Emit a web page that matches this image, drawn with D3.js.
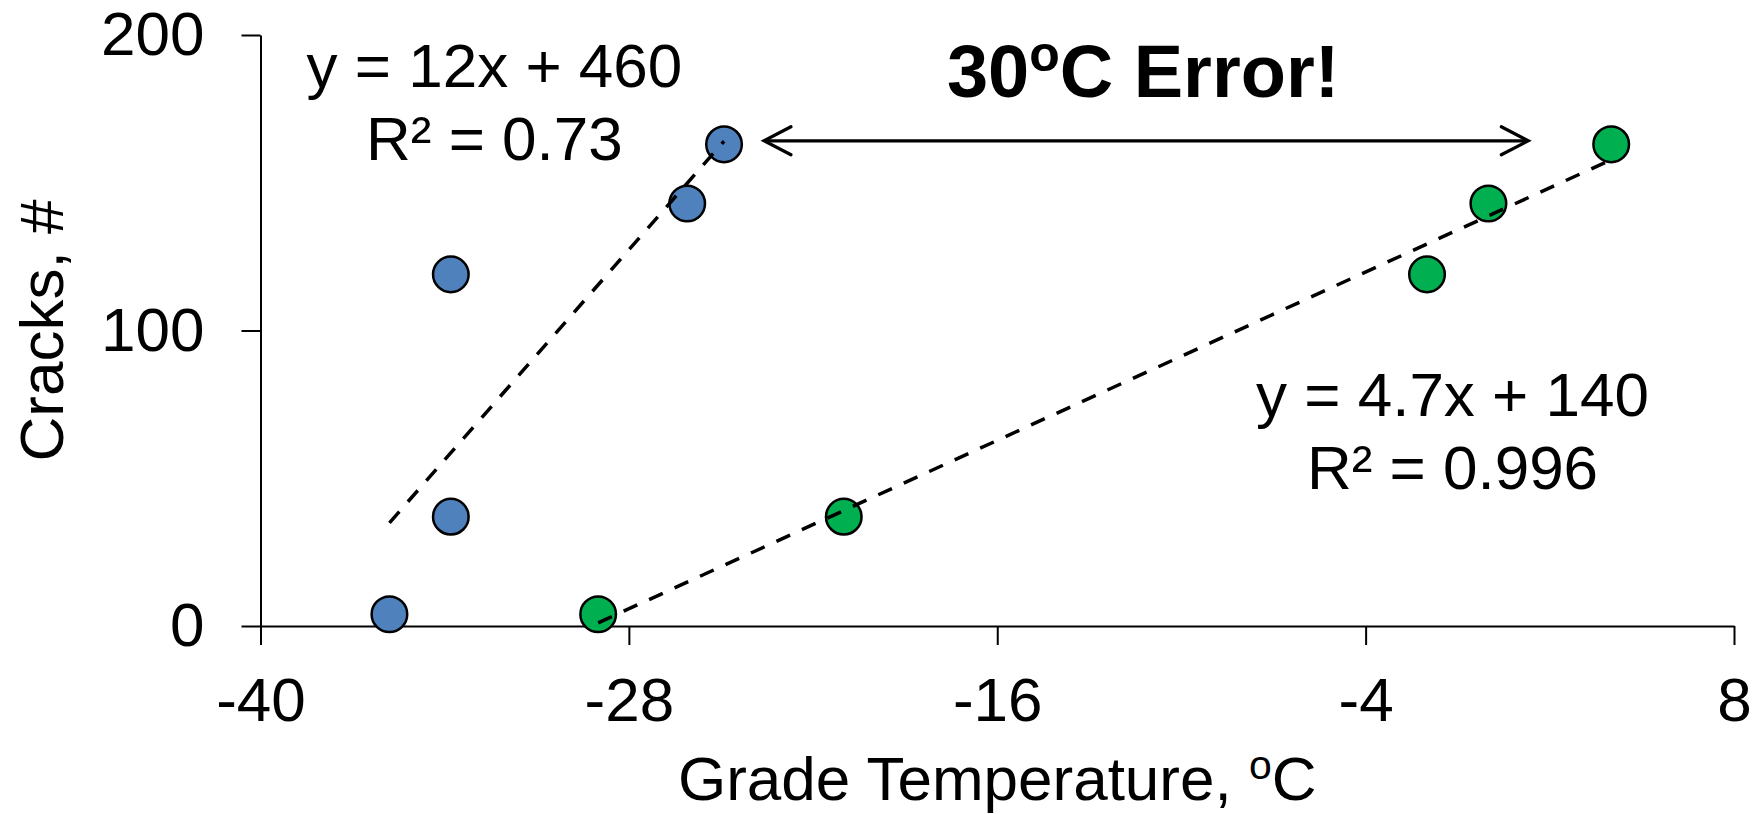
<!DOCTYPE html>
<html>
<head>
<meta charset="utf-8">
<script src="https://cdn.jsdelivr.net/npm/d3@7"></script>
<style>
  html, body { margin: 0; padding: 0; background: #ffffff; }
  svg { display: block; font-family: "Liberation Sans", Arial, sans-serif; }
</style>
</head>
<body>
<svg id="chart" width="1763" height="814"></svg>
<script>
// ---- data ----
const xTicks = [-40, -28, -16, -4, 8];
const yTicks = [0, 100, 200];
const cracks = [4, 37, 119, 143, 163];
const blueTemp = [-35.8, -33.8, -33.8, -26.1, -24.9];
const greenTemp = [-29, -21, -2, 0, 4];
const blueEq = ["y = 12x + 460", "R\u00B2 = 0.73"];
const greenEq = ["y = 4.7x + 140", "R\u00B2 = 0.996"];
const xTitle = ["Grade Temperature, ", "o", "C"];
const yTitle = "Cracks, #";
const errorLabel = ["30", "o", "C Error!"];
const arrowTemps = [-23.6, 1.3];
const arrowCracks = 164.2;

// ---- layout ----
const svg = d3.select("#chart");
const W = 1763, H = 814;
svg.append("rect").attr("width", W).attr("height", H).attr("fill", "#fff");

const x = d3.scaleLinear().domain([-40, 8]).range([260.5, 1734]);
const y = d3.scaleLinear().domain([0, 200]).range([626, 35]);
const FONT = 62;
const fmt = d => String(d);

// axes
const yAxis = d3.axisLeft(y).tickValues(yTicks).tickFormat(fmt).tickSize(19).tickSizeOuter(0).tickPadding(37);
const xAxis = d3.axisBottom(x).tickValues(xTicks).tickFormat(fmt).tickSize(19).tickSizeOuter(0).tickPadding(32);

const gy = svg.append("g").attr("transform", `translate(${x(-40)},0)`).call(yAxis);
const gx = svg.append("g").attr("transform", `translate(0,${y(0)})`).call(xAxis);
[gx, gy].forEach(g => {
  g.select(".domain").attr("stroke", "#000").attr("stroke-width", 2);
  g.selectAll(".tick line").attr("stroke", "#000").attr("stroke-width", 2);
  g.selectAll(".tick text").attr("fill", "#000").attr("font-size", FONT)
    .attr("font-family", "Liberation Sans, Arial, sans-serif");
});

// points
function drawPoints(temps, fill) {
  svg.append("g").selectAll("circle")
    .data(temps.map((t, i) => [t, cracks[i]]))
    .join("circle")
    .attr("cx", d => x(d[0]))
    .attr("cy", d => y(d[1]))
    .attr("r", 17.8)
    .attr("fill", fill)
    .attr("stroke", "#000")
    .attr("stroke-width", 2.5);
}
drawPoints(blueTemp, "#4F81BD");
drawPoints(greenTemp, "#00B050");

// linear trend lines (least squares)
function fit(xs, ys) {
  const mx = d3.mean(xs), my = d3.mean(ys);
  let sxy = 0, sxx = 0;
  xs.forEach((v, i) => { sxy += (v - mx) * (ys[i] - my); sxx += (v - mx) * (v - mx); });
  const m = sxy / sxx;
  return { m, b: my - m * mx };
}
function drawTrend(temps) {
  const f = fit(temps, cracks);
  const ext = d3.extent(temps);
  const line = d3.line().x(d => x(d)).y(d => y(f.m * d + f.b));
  svg.append("path")
    .attr("d", line(ext))
    .attr("fill", "none")
    .attr("stroke", "#000")
    .attr("stroke-width", 3.5)
    .attr("stroke-dasharray", "15,13");
}
drawTrend(blueTemp);
drawTrend(greenTemp);

// equations (anchored in data units)
function drawEq(lines, tx, ty) {
  lines.forEach((s, i) => {
    svg.append("text")
      .attr("x", x(tx))
      .attr("y", y(ty) + i * 73)
      .attr("text-anchor", "middle")
      .attr("font-size", FONT)
      .attr("fill", "#000")
      .text(s);
  });
}
drawEq(blueEq, -32.38, 182.4);
drawEq(greenEq, -1.17, 71.1);

// arrow (double-headed, open chevrons)
const ay = y(arrowCracks);
const ax0 = x(arrowTemps[0]), ax1 = x(arrowTemps[1]);
const ag = svg.append("g").attr("fill", "none").attr("stroke", "#000").attr("stroke-width", 3.2);
ag.append("line").attr("x1", ax0 + 1).attr("x2", ax1 - 1).attr("y1", ay).attr("y2", ay);
ag.append("path").attr("d", `M${ax0 + 27},${ay - 14} L${ax0},${ay} L${ax0 + 27},${ay + 14}`)
  .attr("stroke-linecap", "round").attr("stroke-linejoin", "miter");
ag.append("path").attr("d", `M${ax1 - 27},${ay - 14} L${ax1},${ay} L${ax1 - 27},${ay + 14}`)
  .attr("stroke-linecap", "round").attr("stroke-linejoin", "miter");

// "30oC Error!" label
const et = svg.append("text")
  .attr("x", (ax0 + ax1) / 2 - 3)
  .attr("y", 97)
  .attr("text-anchor", "middle")
  .attr("font-size", 74)
  .attr("font-weight", "bold")
  .attr("fill", "#000");
et.append("tspan").text(errorLabel[0]);
et.append("tspan").attr("font-size", 50).attr("dy", -26).text(errorLabel[1]);
et.append("tspan").attr("dy", 26).text(errorLabel[2]);

// x axis title
const xt = svg.append("text")
  .attr("x", (x(-40) + x(8)) / 2)
  .attr("y", 800)
  .attr("text-anchor", "middle")
  .attr("font-size", FONT)
  .attr("fill", "#000");
xt.append("tspan").text(xTitle[0]);
xt.append("tspan").attr("font-size", 41).attr("dy", -21).text(xTitle[1]);
xt.append("tspan").attr("dy", 21).text(xTitle[2]);

// y axis title
svg.append("text")
  .attr("transform", `translate(63,${(y(0) + y(200)) / 2}) rotate(-90)`)
  .attr("text-anchor", "middle")
  .attr("font-size", FONT)
  .attr("fill", "#000")
  .text(yTitle);
</script>
</body>
</html>
